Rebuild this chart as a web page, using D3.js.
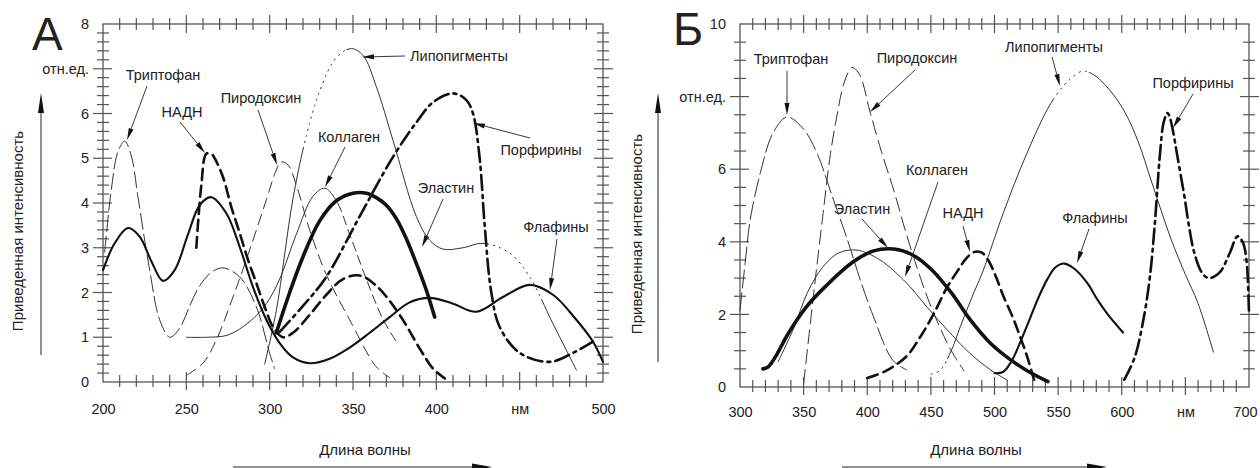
<!DOCTYPE html>
<html><head><meta charset="utf-8">
<script src="https://cdn.jsdelivr.net/npm/d3@7"></script>
<style>
body{margin:0;background:#fff}
svg{display:block}
text{font-family:"Liberation Sans",Arial,sans-serif;fill:#222}
</style>
</head><body>
<svg id="c" width="1260" height="468"></svg>
<script>
// ---------- DATA (panel А) ----------
const xTicksA = [200,250,300,350,400,450,500];
const xTickLabelsA = ["200","250","300","350","400","нм","500"];
const yTicksA = [0,1,2,3,4,5,6,7,8];
const yTickLabelsA = ["0","1","2","3","4","5","6","отн.ед.","8"];
const seriesNamesA = ["Триптофан","НАДН","Пиродоксин","Коллаген","Липопигменты","Порфирины","Эластин","Флафины"];
const tryptophanA = [[201,2.9],[205,4.3],[209,5.15],[213,5.38],[217,5.05],[221,4.13],[228,2.5],[234,1.39],[240,1.0],[246,1.2],[252,1.7],[258,2.15],[265,2.45],[272,2.55],[282,2.35],[292,1.68],[300,0.64],[303,0.3]];
const nadhA = [[256,3.0],[259,4.4],[262,5.1],[265,5.1],[267,5.0],[272,4.58],[277,3.91],[282,3.33],[287,2.73],[292,2.21],[297,1.68],[302,1.23],[308,1.0],[314,1.1],[324,1.5],[334,1.95],[344,2.3],[354,2.38],[364,2.15],[378,1.5],[390,0.75],[398,0.3],[405,0.08]];
const pyridoxineA = [[250,0.15],[260,0.42],[268,0.94],[278,1.9],[288,2.95],[298,4.07],[304,4.74],[307,4.92],[311,4.85],[316,4.4],[324,3.4],[334,2.4],[348,1.39],[364,0.34],[372,0.1]];
const collagenA = [[250,1.0],[262,1.0],[275,1.05],[288,1.35],[298,1.75],[306,2.3],[316,3.3],[326,4.15],[333,4.33],[340,4.05],[348,3.3],[358,2.3],[368,1.4],[376,0.9]];
const lipopigmentA = [[297,0.4],[304,1.6],[314,4.1],[322,5.5],[330,6.5],[340,7.25],[349,7.45],[356,7.3],[364,6.6],[374,5.4],[388,3.7],[396,3.17],[404,2.97],[416,3.0],[428,3.1],[444,2.88],[456,2.35],[470,1.3],[484,0.27]];
const porphyrinA = [[306,1.12],[320,1.7],[334,2.35],[354,3.7],[374,5.03],[388,5.8],[398,6.25],[410,6.45],[418,6.3],[422,6.0],[426,5.0],[429,3.5],[433,2.0],[438,1.23],[450,0.65],[468,0.45],[482,0.65],[494,0.9]];
const elastinA = [[304,1.1],[312,2.0],[320,2.8],[330,3.6],[340,4.05],[350,4.22],[358,4.22],[364,4.12],[370,3.95],[376,3.65],[382,3.2],[388,2.65],[394,2.05],[399,1.45]];
const flavinA = [[200,2.5],[207,3.1],[215,3.44],[222,3.25],[229,2.7],[236,2.26],[243,2.5],[251,3.3],[258,3.95],[265,4.13],[274,3.77],[282,3.02],[290,2.12],[298,1.39],[306,0.87],[314,0.55],[324,0.42],[336,0.52],[348,0.77],[360,1.1],[372,1.45],[384,1.78],[396,1.88],[410,1.75],[424,1.57],[440,1.9],[456,2.17],[470,1.95],[484,1.39],[494,0.9],[500,0.45]];

// ---------- DATA (panel Б) ----------
const xTicksB = [300,350,400,450,500,550,600,650,700];
const xTickLabelsB = ["300","350","400","450","500","550","600","нм","700"];
const yTicksB = [0,2,4,6,8,10];
const yTickLabelsB = ["0","2","4","6","отн.ед.","10"];
const seriesNamesB = ["Триптофан","Пиродоксин","Коллаген","Эластин","НАДН","Липопигменты","Порфирины","Флафины"];
const tryptophanB = [[300,2.1],[304,3.4],[308,4.6],[316,5.9],[326,7.0],[337,7.44],[350,7.1],[361,6.4],[372,5.3],[384,4.1],[395,2.9],[405,1.93],[420,0.74],[431,0.47]];
const pyridoxineB = [[350,0.1],[358,2.6],[365,4.7],[371,6.4],[376,7.44],[382,8.4],[388,8.8],[394,8.6],[402,7.6],[411,6.5],[421,5.4],[430,4.3],[439,3.3],[448,2.4],[457,1.65],[466,1.0],[476,0.45]];
const collagenB = [[330,0.7],[342,1.6],[353,2.6],[365,3.3],[378,3.7],[392,3.77],[410,3.5],[431,2.86],[447,2.2],[463,1.57],[480,0.95],[497,0.47],[510,0.19]];
const elastinB = [[318,0.5],[322,0.55],[329,0.9],[337,1.42],[352,2.2],[368,2.8],[389,3.45],[405,3.75],[421,3.8],[435,3.65],[450,3.25],[466,2.6],[481,1.85],[497,1.2],[513,0.74],[528,0.4],[542,0.15]];
const nadhB = [[400,0.25],[415,0.45],[431,0.85],[442,1.4],[452,2.0],[462,2.7],[471,3.2],[478,3.55],[484,3.72],[490,3.7],[495,3.5],[501,3.05],[507,2.5],[514,1.95],[520,1.4],[526,0.8],[531,0.2]];
const lipopigmentB = [[450,0.35],[457,0.45],[466,1.0],[473,1.65],[482,2.45],[491,3.2],[507,4.8],[525,6.4],[544,7.8],[557,8.4],[569,8.7],[578,8.6],[590,8.2],[602,7.6],[613,6.75],[623,5.7],[639,4.05],[650,3.1],[660,2.3],[672,0.96]];
const porphyrinB = [[602,0.2],[610,0.8],[617,1.85],[622,3.0],[626,4.5],[630,6.4],[633,7.3],[636,7.55],[638,7.4],[640,7.1],[644,6.3],[649,5.3],[653,4.4],[657,3.7],[663,3.15],[668,3.0],[673,3.05],[678,3.2],[685,3.7],[691,4.15],[695,4.0],[698,3.5],[700,2.0]];
const flavinB = [[500,0.38],[507,0.42],[514,0.75],[521,1.3],[528,1.9],[535,2.5],[542,3.0],[548,3.3],[555,3.4],[563,3.25],[573,2.86],[581,2.4],[589,2.0],[601,1.5]];

const axisTitleY = "Приведенная интенсивность";
const axisTitleX = "Длина волны";

// ---------- LAYOUT / STYLE ----------
const FONT = '"Liberation Sans",Arial,sans-serif';
const svg = d3.select("#c");
const STY = {
  tryp:  {w:1, c:"#333", dash:[16,5]},
  nadh:  {w:2.6, c:"#111", dash:[11,6]},
  pyr:   {w:1, c:"#333", dash:[11,6]},
  coll:  {w:1, c:"#333", segs:[{from:336,to:400,pat:[9,5]}]},
  lipo:  {w:1, c:"#333", segs:[{from:320,to:346,pat:[1.3,5]},{from:430,to:463,pat:[1.3,5]},{from:546,to:574,pat:[1.3,5]}]},
  porph: {w:2.6, c:"#111", dash:[15,5,3,5]},
  elast: {w:3.6, c:"#111"},
  flav:  {w:2.1, c:"#111"}
};
const STY_B = Object.assign({}, STY, {
  coll: {w:1, c:"#333"},
  tryp: {w:1, c:"#333", dash:[18,5]},
  pyr:  {w:1, c:"#333", dash:[14,6]}
});

function segmentDash(path, x, segs) {
  const node = path.node(); const L = node.getTotalLength();
  const runs = []; let curOn = true, curLen = 0, phase = 0, lastPat = null;
  const step = 0.5;
  for (let l = 0; l < L; l += step) {
    const p = node.getPointAtLength(l);
    const nm = x.invert(p.x);
    const seg = segs.find(s => nm >= s.from && nm <= s.to);
    const pat = seg ? seg.pat : null;
    let on = true;
    if (pat) {
      if (pat !== lastPat) phase = 0;
      const tot = d3.sum(pat); let m = phase % tot;
      for (let i = 0; i < pat.length; i++) { if (m < pat[i]) { on = (i % 2 === 0); break; } m -= pat[i]; }
      phase += step;
    }
    lastPat = pat;
    if (on === curOn) curLen += step; else { runs.push(curLen); curOn = on; curLen = step; }
  }
  runs.push(curLen);
  if (runs.length % 2 === 1) runs.push(0);
  path.attr("stroke-dasharray", runs.join(","));
}

function arrowLine(g, x1, y1, x2, y2, len, w, sw) {
  const a = Math.atan2(y2 - y1, x2 - x1);
  const bx = x2 - len * Math.cos(a), by = y2 - len * Math.sin(a);
  g.append("line").attr("x1", x1).attr("y1", y1).attr("x2", bx).attr("y2", by)
    .attr("stroke", "#222").attr("stroke-width", sw);
  const px = -Math.sin(a) * w / 2, py = Math.cos(a) * w / 2;
  g.append("path").attr("d", `M${x2},${y2}L${bx+px},${by+py}L${bx-px},${by-py}Z`).attr("fill", "#111");
}

function drawPanel(o) {
  const g = svg.append("g");
  const x = o.x, y = o.y;
  const [x0, x1] = x.range(), [y0, y1] = y.range();
  const isMaj = (v, m) => Math.abs(v / m - Math.round(v / m)) < 1e-6;
  const tk = g.append("g").attr("stroke", "#555").attr("stroke-width", 1.2);
  d3.range(o.xDom[0] + o.xMinor, o.xDom[1] - 0.001, o.xMinor).forEach(v => {
    const mj = isMaj(v, o.xMajor), X = x(v);
    tk.append("line").attr("x1", X).attr("x2", X).attr("y1", y0 - (mj ? 10 : 7)).attr("y2", y0 + (mj ? 8 : 5));
    tk.append("line").attr("x1", X).attr("x2", X).attr("y1", y1 - (mj ? 9 : 6)).attr("y2", y1 + (mj ? 9 : 6));
  });
  d3.range(o.yDom[0] + o.yMinor, o.yDom[1] - 0.001, o.yMinor).forEach(v => {
    const mj = isMaj(v, o.yMajor), Y = y(v);
    tk.append("line").attr("y1", Y).attr("y2", Y).attr("x1", x0 - (mj ? 10 : 6)).attr("x2", x0 + (mj ? 9 : 6));
    tk.append("line").attr("y1", Y).attr("y2", Y).attr("x1", x1 - (mj ? 9 : 6)).attr("x2", x1 + (mj ? 10 : 6));
  });
  g.append("rect").attr("x", x0).attr("y", y1).attr("width", x1 - x0).attr("height", y0 - y1)
    .attr("fill", "none").attr("stroke", "#555").attr("stroke-width", 1.3);

  const ax = g.append("g").attr("transform", `translate(0,${y0})`)
    .call(d3.axisBottom(x).tickValues(o.xTicks).tickFormat((d, i) => o.xTickLabels[i]).tickSize(0).tickPadding(o.xPad));
  ax.select(".domain").remove();
  ax.attr("font-family", FONT).attr("font-size", 14.5);
  ax.selectAll("text").attr("fill", "#222");
  if (o.lastLabelDx) ax.selectAll("text").filter((d, i, n) => i === n.length - 1).attr("dx", o.lastLabelDx);
  const ay = g.append("g").attr("transform", `translate(${x0},0)`)
    .call(d3.axisLeft(y).tickValues(o.yTicks).tickFormat((d, i) => o.yTickLabels[i]).tickSize(0).tickPadding(o.yPad));
  ay.select(".domain").remove();
  ay.attr("font-family", FONT).attr("font-size", 14.5);
  ay.selectAll("text").attr("fill", "#222");

  const line = d3.line().x(d => x(d[0])).y(d => y(d[1])).curve(d3.curveCatmullRom.alpha(0.5));
  const cg = g.append("g").attr("fill", "none");
  o.series.forEach(s => {
    const st = o.styles[s.key];
    const p = cg.append("path").datum(s.data).attr("d", line)
      .attr("stroke", st.c).attr("stroke-width", st.w).attr("stroke-linecap", "round").attr("stroke-linejoin", "round");
    if (st.dash) p.attr("stroke-dasharray", st.dash.join(","));
    if (st.segs) segmentDash(p, x, st.segs);
  });

  const lg = g.append("g");
  o.labels.forEach((t, i) => {
    const L = o.labelPos[i];
    lg.append("text").attr("x", L.tx).attr("y", L.ty).attr("text-anchor", "middle")
      .attr("dominant-baseline", "central").attr("font-size", 14.5).text(t);
    arrowLine(lg, L.ax, L.ay, L.bx, L.by, 12, 5, 0.9);
  });

  g.append("text").attr("x", o.letterX).attr("y", o.letterY).attr("font-size", 46).attr("fill", "#111").text(o.letter);
  g.append("text").attr("transform", `translate(${o.ytX},${o.ytY}) rotate(-90)`).attr("text-anchor", "middle")
    .attr("font-size", 15).text(axisTitleY);
  arrowLine(g, o.yaX, o.yaY0, o.yaX, o.yaY1, 20, 6, 1);
  g.append("text").attr("x", o.xtX).attr("y", o.xtY).attr("text-anchor", "middle").attr("font-size", 15).text(axisTitleX);
  arrowLine(g, o.xaX0, o.xaY, o.xaX1, o.xaY, 20, 7, 1);
}

drawPanel({
  x: d3.scaleLinear([200, 500], [103, 603]), y: d3.scaleLinear([0, 8], [382, 24]),
  xDom: [200, 500], yDom: [0, 8], xMinor: 10, xMajor: 50, yMinor: 0.2, yMajor: 1,
  xTicks: xTicksA, xTickLabels: xTickLabelsA, yTicks: yTicksA, yTickLabels: yTickLabelsA, xPad: 22, yPad: 14,
  styles: STY,
  series: [
    {key: "tryp", data: tryptophanA}, {key: "pyr", data: pyridoxineA}, {key: "coll", data: collagenA},
    {key: "lipo", data: lipopigmentA}, {key: "nadh", data: nadhA}, {key: "porph", data: porphyrinA},
    {key: "flav", data: flavinA}, {key: "elast", data: elastinA}
  ],
  labels: seriesNamesA,
  labelPos: [
    {tx:163, ty:75, ax:147, ay:86, bx:127, by:140},
    {tx:182, ty:112, ax:180, ay:122, bx:205, by:153},
    {tx:261, ty:98, ax:258, ay:110, bx:277, by:165},
    {tx:349, ty:137, ax:345, ay:147, bx:325, by:187},
    {tx:459, ty:56, ax:405, ay:56, bx:362, by:57},
    {tx:541, ty:150, ax:530, ay:138, bx:473, by:123},
    {tx:446, ty:188, ax:443, ay:199, bx:422, by:247},
    {tx:556, ty:227, ax:557, ay:239, bx:550, by:290}
  ],
  letter: "А", letterX: 32, letterY: 50,
  ytX: 23, ytY: 231, yaX: 41, yaY0: 355, yaY1: 93,
  xtX: 365, xtY: 455, xaX0: 233, xaX1: 492, xaY: 467
});

drawPanel({
  x: d3.scaleLinear([300, 700], [740, 1249]), y: d3.scaleLinear([0, 10], [387, 24]),
  xDom: [300, 700], yDom: [0, 10], xMinor: 10, xMajor: 50, yMinor: 0.5, yMajor: 2,
  xTicks: xTicksB, xTickLabels: xTickLabelsB, yTicks: yTicksB, yTickLabels: yTickLabelsB, xPad: 20, yPad: 14,
  lastLabelDx: -4,
  styles: STY_B,
  series: [
    {key: "tryp", data: tryptophanB}, {key: "pyr", data: pyridoxineB}, {key: "coll", data: collagenB},
    {key: "lipo", data: lipopigmentB}, {key: "nadh", data: nadhB}, {key: "porph", data: porphyrinB},
    {key: "flav", data: flavinB}, {key: "elast", data: elastinB}
  ],
  labels: seriesNamesB,
  labelPos: [
    {tx:791, ty:59, ax:787, ay:71, bx:787, by:115},
    {tx:917, ty:58, ax:915, ay:70, bx:870, by:112},
    {tx:937, ty:170, ax:938, ay:182, bx:905, by:277},
    {tx:862, ty:209, ax:862, ay:219, bx:888, by:248},
    {tx:963, ty:213, ax:963, ay:226, bx:970, by:252},
    {tx:1054, ty:47, ax:1052, ay:57, bx:1060, by:86},
    {tx:1193, ty:83, ax:1193, ay:94, bx:1173, by:128},
    {tx:1095, ty:218, ax:1089, ay:229, bx:1077, by:263}
  ],
  letter: "Б", letterX: 673, letterY: 45,
  ytX: 642, ytY: 234, yaX: 658, yaY0: 362, yaY1: 93,
  xtX: 976, xtY: 455, xaX0: 842, xaX1: 1107, xaY: 467
});
</script>
</body></html>
